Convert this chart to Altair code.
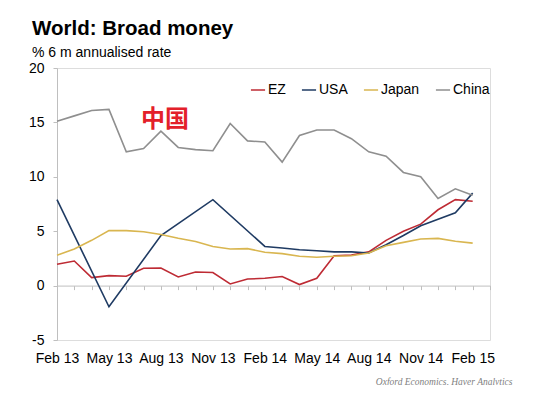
import altair as alt
import pandas as pd

# ---- data -------------------------------------------------------------
categories = ["Feb 13", "Mar 13", "Apr 13", "May 13", "Jun 13", "Jul 13", "Aug 13",
              "Sep 13", "Oct 13", "Nov 13", "Dec 13", "Jan 14", "Feb 14", "Mar 14",
              "Apr 14", "May 14", "Jun 14", "Jul 14", "Aug 14", "Sep 14", "Oct 14",
              "Nov 14", "Dec 14", "Jan 15", "Feb 15", "Mar 15"]
months = categories[:25]
tick_labels = ["Feb 13", "May 13", "Aug 13", "Nov 13", "Feb 14", "May 14",
               "Aug 14", "Nov 14", "Feb 15"]

series_names = ["EZ", "USA", "Japan", "China"]
series_colors = ["#BE2B34", "#1F3B63", "#D9B650", "#8F8F8F"]

ez = [1.96, 2.26, 0.73, 0.92, 0.86, 1.6, 1.62, 0.8, 1.25, 1.2, 0.15, 0.6, 0.67,
      0.83, 0.1, 0.67, 2.75, 2.8, 3.1, 4.16, 5.0, 5.65, 6.97, 7.9, 7.75]
usa = [7.9, None, None, -1.95, None, None, 4.6, None, None, 7.9, None, None, 3.6,
       3.45, 3.3, 3.2, 3.1, 3.1, 3.0, 3.76, 4.6, 5.5, 6.1, 6.7, 8.5]
japan = [2.8, 3.37, 4.16, 5.05, 5.05, 4.95, 4.7, 4.35, 4.05, 3.6, 3.37, 3.4, 3.06,
         2.94, 2.7, 2.6, 2.7, 2.75, 3.0, 3.67, 3.97, 4.28, 4.34, 4.07, 3.9]
china = [15.1, 15.6, 16.1, 16.2, 12.3, 12.6, 14.2, 12.7, 12.5, 12.4, 14.9, 13.3,
         13.2, 11.35, 13.8, 14.3, 14.3, 13.5, 12.3, 11.9, 10.4, 10.0, 8.0, 8.9, 8.3]

annotation_text = ["中国"]
annotation_month = ["Aug 13"]
annotation_value = [15.2]

title_text = "World: Broad money"
subtitle_text = "% 6 m annualised rate"
source_text = "Oxford Economics, Haver Analytics"

# ---- table --------------------------------------------------------------
rows = []
for name, vals in zip(series_names, [ez, usa, japan, china]):
    for i, (m, v) in enumerate(zip(months, vals)):
        if v is not None:
            rows.append({"month": m, "idx": i, "series": name, "value": v})
df = pd.DataFrame(rows)
ann = pd.DataFrame({"month": annotation_month, "value": annotation_value,
                    "label": annotation_text})

FONT = "Liberation Sans"
W, H = 433, 272

xscale = alt.Scale(type="point", domain=categories, padding=0)
yscale = alt.Scale(domain=[-5, 20], nice=False, zero=False)
yaxis = alt.Axis(values=[-5, 0, 5, 10, 15, 20], grid=False, domainColor="#BFBFBF",
                 tickColor="#BFBFBF", tickSize=4, labelFontSize=14, labelColor="#000000",
                 labelFont=FONT, labelPadding=9, title=None,
                 labelExpr="datum.value + ''")

label_axis = alt.Axis(values=tick_labels, domain=False, ticks=False, tickSize=0,
                      grid=False, labelAngle=0, labelFontSize=14, labelColor="#000000",
                      labelFont=FONT, labelPadding=11, orient="bottom",
                      title=source_text, titleFont="Liberation Serif",
                      titleFontStyle="italic", titleFontWeight="normal",
                      titleFontSize=9.5, titleColor="#7F7F7F", titleAlign="right",
                      titleAnchor="end", titleX=455, titleY=44,
                      titleBaseline="alphabetic")
tick_axis = alt.Axis(values=categories, domain=True, domainColor="#BFBFBF",
                     ticks=True, tickColor="#BFBFBF", tickSize=4, labels=False,
                     grid=False, orient="bottom", offset=-(H * 5 / 25), title=None)

lines = alt.Chart(df).mark_line(strokeWidth=1.6).encode(
    x=alt.X("month:O", scale=xscale, axis=label_axis),
    y=alt.Y("value:Q", scale=yscale, axis=yaxis),
    color=alt.Color("series:N",
                    scale=alt.Scale(domain=series_names, range=series_colors),
                    legend=alt.Legend(orient="none", legendX=193, legendY=14,
                                      direction="horizontal", title=None,
                                      symbolType="stroke", symbolStrokeWidth=1.5,
                                      symbolSize=200, labelFontSize=14,
                                      labelFont=FONT, labelColor="#000000",
                                      labelOffset=2, columnPadding=12, padding=0)),
    order=alt.Order("idx:Q"),
)

note = alt.Chart(ann).mark_text(font="Noto Sans CJK SC", fontSize=24,
                                fontWeight="bold", color="#E3202A", dx=4).encode(
    x=alt.X("month:O", scale=xscale, axis=tick_axis),
    y=alt.Y("value:Q", scale=yscale, axis=yaxis),
    text="label:N",
)

chart = alt.layer(lines, note).resolve_scale(x="shared", y="shared").resolve_axis(
    x="independent", y="shared"
).properties(
    width=W, height=H,
    autosize=alt.AutoSizeParams(type="none"),
    padding={"left": 49, "top": 60, "right": 52, "bottom": 45},
    title=alt.TitleParams(text=title_text, subtitle=subtitle_text, anchor="start",
                          frame="group", dx=-25, dy=-1, font=FONT, fontSize=20.5,
                          fontWeight="bold", color="#000000", subtitleFont=FONT,
                          subtitleFontSize=14, subtitleColor="#000000",
                          subtitlePadding=7, offset=0),
).configure_view(stroke=None).configure(font=FONT)

chart.save("out.html", embed_options={"renderer": "svg", "actions": False})
